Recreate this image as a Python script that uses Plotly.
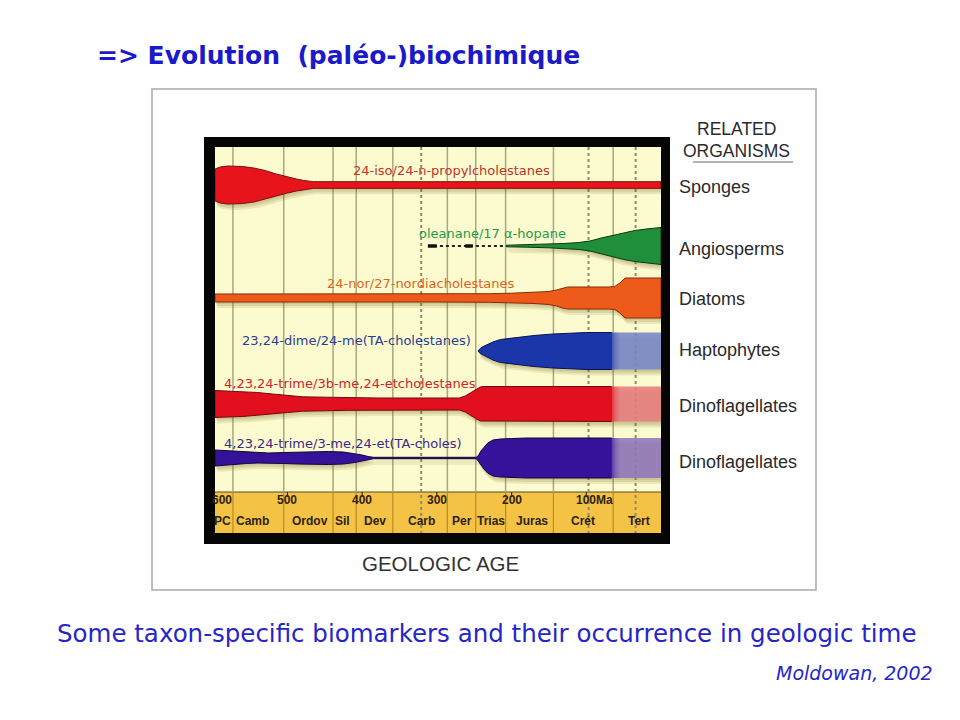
import plotly.graph_objects as go
import numpy as np

# ---------------- data ----------------
AGE_TICKS = [588, 500, 400, 300, 200, 89]
AGE_TICK_TEXT = ["600", "500", "400", "300", "200", "100Ma"]
PERIOD_NAMES = ["PC", "Camb", "Ordov", "Sil", "Dev", "Carb", "Per", "Trias", "Juras", "Crét", "Tert"]
PERIOD_LABEL_MA = [587, 547, 470, 426, 383, 321, 267, 227, 173, 104, 30]
PERIOD_BOUNDS_MA = [573, 505, 439, 408, 359, 286, 248, 208, 144, 64]
DOTTED_BOUNDS_MA = [321, 97, 34]

ORGANISMS = ["Sponges", "Angiosperms", "Diatoms", "Haptophytes", "Dinoflagellates", "Dinoflagellates"]
BIOMARKERS = ["24-iso/24-n-propylcholestanes", "oleanane/17 \u03b1-hopane", "24-nor/27-nordiacholestanes",
              "23,24-dime/24-me(TA-cholestanes)", "4,23,24-trime/3b-me,24-etcholestanes",
              "4,23,24-trime/3-me,24-et(TA-choles)"]
ROW_CENTER = [38, 99, 151, 204, 257, 311]
LABEL_MA = [280, 225, 321, 408, 416, 426]
LABEL_Y = [23, 86, 136, 193, 236, 296]

SPONGE_MA = [597, 590, 580, 570, 560, 545, 530, 515, 500, 488, 478, 465, 0]
SPONGE_HW = [16, 18, 19, 19, 18.5, 17, 14.5, 11, 8, 6, 4.5, 3.3, 3.3]

ANGIO_MA = [207, 180, 150, 130, 110, 95, 80, 65, 50, 35, 20, 0]
ANGIO_HW = [0.8, 1.2, 1.8, 2.5, 3.5, 5, 8, 10.5, 13.5, 15.5, 17, 18.5]
ANGIO_DOTTED_MA = [312, 207]
ANGIO_DASH_BARS = [(312, 300), (262, 252)]

DIATOM_MA = [597, 400, 300, 230, 200, 170, 150, 140, 132, 125, 70, 62, 55, 48, 0]
DIATOM_HW = [4, 4, 4, 4.3, 4.8, 5.5, 6.5, 8, 10, 11, 11, 11.5, 15, 20, 20]

HAPTO_MA = [245, 242, 238, 232, 225, 215, 200, 190, 170, 145, 120, 100, 66, 0]
HAPTO_HW = [0, 2.5, 4.5, 6.5, 9, 11.5, 13, 13.5, 15.5, 17, 18, 18.5, 18.5, 18.5]

DINO_RED_MA = [597, 580, 560, 540, 520, 500, 480, 450, 420, 380, 340, 300, 270, 262, 255, 248, 242, 238, 66, 0]
DINO_RED_HW = [13.5, 13, 12.5, 11.5, 10, 8.5, 7.2, 6.8, 6.3, 6, 6, 6, 6, 8, 11, 14.5, 17, 17.5, 17.5, 17.5]

DINO_PUR_MA = [597, 585, 570, 555, 540, 525, 505, 485, 465, 445, 425, 410, 400, 392, 385, 247, 244, 241, 237, 232, 225, 215, 200, 180, 66, 0]
DINO_PUR_HW = [8, 7.5, 6.5, 5.5, 5, 5, 5.5, 6, 6.5, 6.5, 6, 4.5, 3, 1.5, 0.7, 0.7, 3, 7, 11, 15, 18, 19, 19.5, 20, 20, 20]

PROFILES = [(SPONGE_MA, SPONGE_HW), (ANGIO_MA, ANGIO_HW), (DIATOM_MA, DIATOM_HW),
            (HAPTO_MA, HAPTO_HW), (DINO_RED_MA, DINO_RED_HW), (DINO_PUR_MA, DINO_PUR_HW)]
FADE_FROM_MA = [None, None, None, 66, 66, 66]

FILL_COLORS = ["#e8141c", "#1f8f3c", "#ee5a1a", "#1a36a8", "#e2101e", "#36129a"]
FADE_RGB = [None, None, None, (118, 136, 200), (232, 124, 126), (142, 118, 188)]
EDGE_COLORS = ["#7a1010", "#0a3a10", "#8a2a08", "#0a1450", "#700810", "#10053a"]
LABEL_COLORS = ["#c0342a", "#1f9a4a", "#e0641e", "#2a3c94", "#d0242c", "#3a2a8a"]

# ---------------- layout geometry ----------------
W, H = 960, 720
PAGE_OFF = 8                      # default page margin of the html body
PL, PR, PT, PB = 215, 661, 147, 533   # plot area as seen on screen
X_RANGE = [597, 0]
Y_RANGE = [386, 0]
YELLOW_BOTTOM = 345
BAND_BOTTOM = 386


def px(xp):
    return (xp - PL) / (PR - PL)


def py(yp):
    return (PB - yp) / (PB - PT)


def polygon(ma, hw, center, dx=0.0, dy=0.0):
    ma = np.asarray(ma, float)
    hw = np.asarray(hw, float)
    xs = np.concatenate([ma, ma[::-1]]) + dx
    ys = np.concatenate([center - hw, (center + hw)[::-1]]) + dy
    return list(xs) + [xs[0]], list(ys) + [ys[0]]


fig = go.Figure()

# shadows
for (ma, hw), c in zip(PROFILES, ROW_CENTER):
    for dx, dy, a in [(-3, 6, 0.12), (-2, 4, 0.14), (-1, 2, 0.12)]:
        xs, ys = polygon(ma, hw, c, dx, dy)
        fig.add_trace(go.Scatter(x=xs, y=ys, fill="toself", mode="none",
                                 fillcolor=f"rgba(110,95,30,{a})", hoverinfo="skip"))

# angiosperm dashed precursor
fig.add_trace(go.Scatter(x=ANGIO_DOTTED_MA, y=[ROW_CENTER[1]] * 2, mode="lines",
                         line=dict(color="#222", width=2, dash="dot"), hoverinfo="skip"))
for a, b in ANGIO_DASH_BARS:
    fig.add_trace(go.Scatter(x=[a, b], y=[ROW_CENTER[1]] * 2, mode="lines",
                             line=dict(color="#111", width=3.5), hoverinfo="skip"))

# main shapes
for i, ((ma, hw), c) in enumerate(zip(PROFILES, ROW_CENTER)):
    ma = np.asarray(ma, float)
    hw = np.asarray(hw, float)
    f = FADE_FROM_MA[i]
    if f is None:
        xs, ys = polygon(ma, hw, c)
        fig.add_trace(go.Scatter(x=xs, y=ys, fill="toself", mode="lines",
                                 line=dict(color=EDGE_COLORS[i], width=1),
                                 fillcolor=FILL_COLORS[i], hoverinfo="skip"))
    else:
        keep = ma >= f
        xs, ys = polygon(ma[keep], hw[keep], c)
        fig.add_trace(go.Scatter(x=xs, y=ys, fill="toself", mode="lines",
                                 line=dict(color=EDGE_COLORS[i], width=1),
                                 fillcolor=FILL_COLORS[i], hoverinfo="skip"))
        fade = ma <= f
        r, g, b = FADE_RGB[i]
        xs, ys = polygon(ma[fade], hw[fade], c)
        fig.add_trace(go.Scatter(x=xs, y=ys, fill="toself", mode="none",
                                 fillcolor=f"rgba({r},{g},{b},0.88)", hoverinfo="skip"))
        R, G, B = [int(FILL_COLORS[i][k:k + 2], 16) for k in (1, 3, 5)]
        h = float(np.interp(f, ma[::-1], hw[::-1]))
        for k, a in enumerate([0.55, 0.35, 0.2, 0.1]):
            x0, x1 = f - k * 2.5, f - (k + 1) * 2.5
            fig.add_trace(go.Scatter(x=[x0, x1, x1, x0, x0], y=[c - h, c - h, c + h, c + h, c - h],
                                     fill="toself", mode="none",
                                     fillcolor=f"rgba({R},{G},{B},{a})", hoverinfo="skip"))

shapes = []
shapes.append(dict(type="rect", xref="x", yref="y", x0=X_RANGE[0], x1=X_RANGE[1],
                   y0=YELLOW_BOTTOM, y1=BAND_BOTTOM, fillcolor="#f4c245",
                   line=dict(width=0), layer="below"))
shapes.append(dict(type="line", xref="x", yref="y", x0=X_RANGE[0], x1=X_RANGE[1],
                   y0=YELLOW_BOTTOM, y1=YELLOW_BOTTOM, line=dict(color="#5a4a20", width=1.2), layer="below"))
for m in PERIOD_BOUNDS_MA:
    shapes.append(dict(type="line", xref="x", yref="y", x0=m, x1=m, y0=0, y1=YELLOW_BOTTOM,
                       line=dict(color="#aaa77c", width=1.5), layer="below"))
    shapes.append(dict(type="line", xref="x", yref="y", x0=m, x1=m, y0=YELLOW_BOTTOM, y1=BAND_BOTTOM,
                       line=dict(color="#b88a2a", width=1.2), layer="below"))
for m in DOTTED_BOUNDS_MA:
    shapes.append(dict(type="line", xref="x", yref="y", x0=m, x1=m, y0=0, y1=BAND_BOTTOM,
                       line=dict(color="#8f8c66", width=2, dash="dot"), layer="below"))
for t in [500, 400, 300, 200, 100]:
    shapes.append(dict(type="line", xref="x", yref="y", x0=t, x1=t, y0=YELLOW_BOTTOM, y1=YELLOW_BOTTOM + 5,
                       line=dict(color="#3a2a10", width=1.2), layer="below"))

for (x0, x1, y0, y1) in [(204, 670, 137, PT), (204, 670, PB, 544), (204, PL, 137, 544), (PR, 670, 137, 544)]:
    shapes.append(dict(type="rect", xref="paper", yref="paper", x0=px(x0), x1=px(x1),
                       y0=py(y1), y1=py(y0), fillcolor="#050505", line=dict(width=0), layer="above"))
shapes.append(dict(type="rect", xref="paper", yref="paper", x0=px(152), x1=px(816), y0=py(590), y1=py(89),
                   line=dict(color="#a9a9a9", width=1.5), fillcolor="rgba(0,0,0,0)", layer="below"))
shapes.append(dict(type="line", xref="paper", yref="paper", x0=px(693), x1=px(793), y0=py(162), y1=py(162),
                   line=dict(color="#9a9a9a", width=1.5)))

ann = []


def note(x, y, text, size, color, family="Liberation Sans, Arial", xanchor="center", xref="paper", yref="paper"):
    ann.append(dict(x=x, y=y, xref=xref, yref=yref, text=text, showarrow=False,
                    xanchor=xanchor, yanchor="middle",
                    font=dict(family=family, size=size, color=color)))


for i in range(6):
    note(LABEL_MA[i], LABEL_Y[i], BIOMARKERS[i], 13, LABEL_COLORS[i], family="DejaVu Sans, Verdana",
         xref="x", yref="y")
for t, s in zip(AGE_TICKS, AGE_TICK_TEXT):
    note(t, 353, f"<b>{s}</b>", 12, "#2e2210", xref="x", yref="y")
for m, s in zip(PERIOD_LABEL_MA, PERIOD_NAMES):
    note(m, 374, f"<b>{s}</b>", 12, "#2e2210", xref="x", yref="y")

note(px(736), py(129), "RELATED", 17.5, "#2a2a2a")
note(px(736), py(151), "ORGANISMS", 17.5, "#2a2a2a")
for org, c in zip(ORGANISMS, [187, 249, 299, 350, 406, 462]):
    note(px(677), py(c), org, 18, "#2a2a2a", xanchor="left")
note(px(440), py(563), "GEOLOGIC AGE", 20.5, "#333333")
note(px(95), py(55), "<b>=> Evolution  (paléo-)biochimique</b>", 25, "#1a1ac8",
     family="Comic Sans MS, DejaVu Sans", xanchor="left")
note(px(487), py(633), "Some taxon-specific biomarkers and their occurrence in geologic time", 24.5, "#2626c8",
     family="Comic Sans MS, DejaVu Sans")
note(px(935), py(673), "<i>Moldowan, 2002</i>", 19, "#2626c8",
     family="Comic Sans MS, DejaVu Sans", xanchor="right")

fig.update_layout(
    width=W, height=H, autosize=False,
    margin=dict(l=PL - PAGE_OFF, r=W - PR + PAGE_OFF, t=PT - PAGE_OFF, b=H - PB + PAGE_OFF, pad=0),
    paper_bgcolor="white", plot_bgcolor="#fcfbcf",
    showlegend=False, hovermode=False,
    xaxis=dict(range=X_RANGE, visible=False, showgrid=False, zeroline=False, fixedrange=True),
    yaxis=dict(range=Y_RANGE, visible=False, showgrid=False, zeroline=False, fixedrange=True),
    shapes=shapes, annotations=ann,
)
fig.write_html("out.html")
